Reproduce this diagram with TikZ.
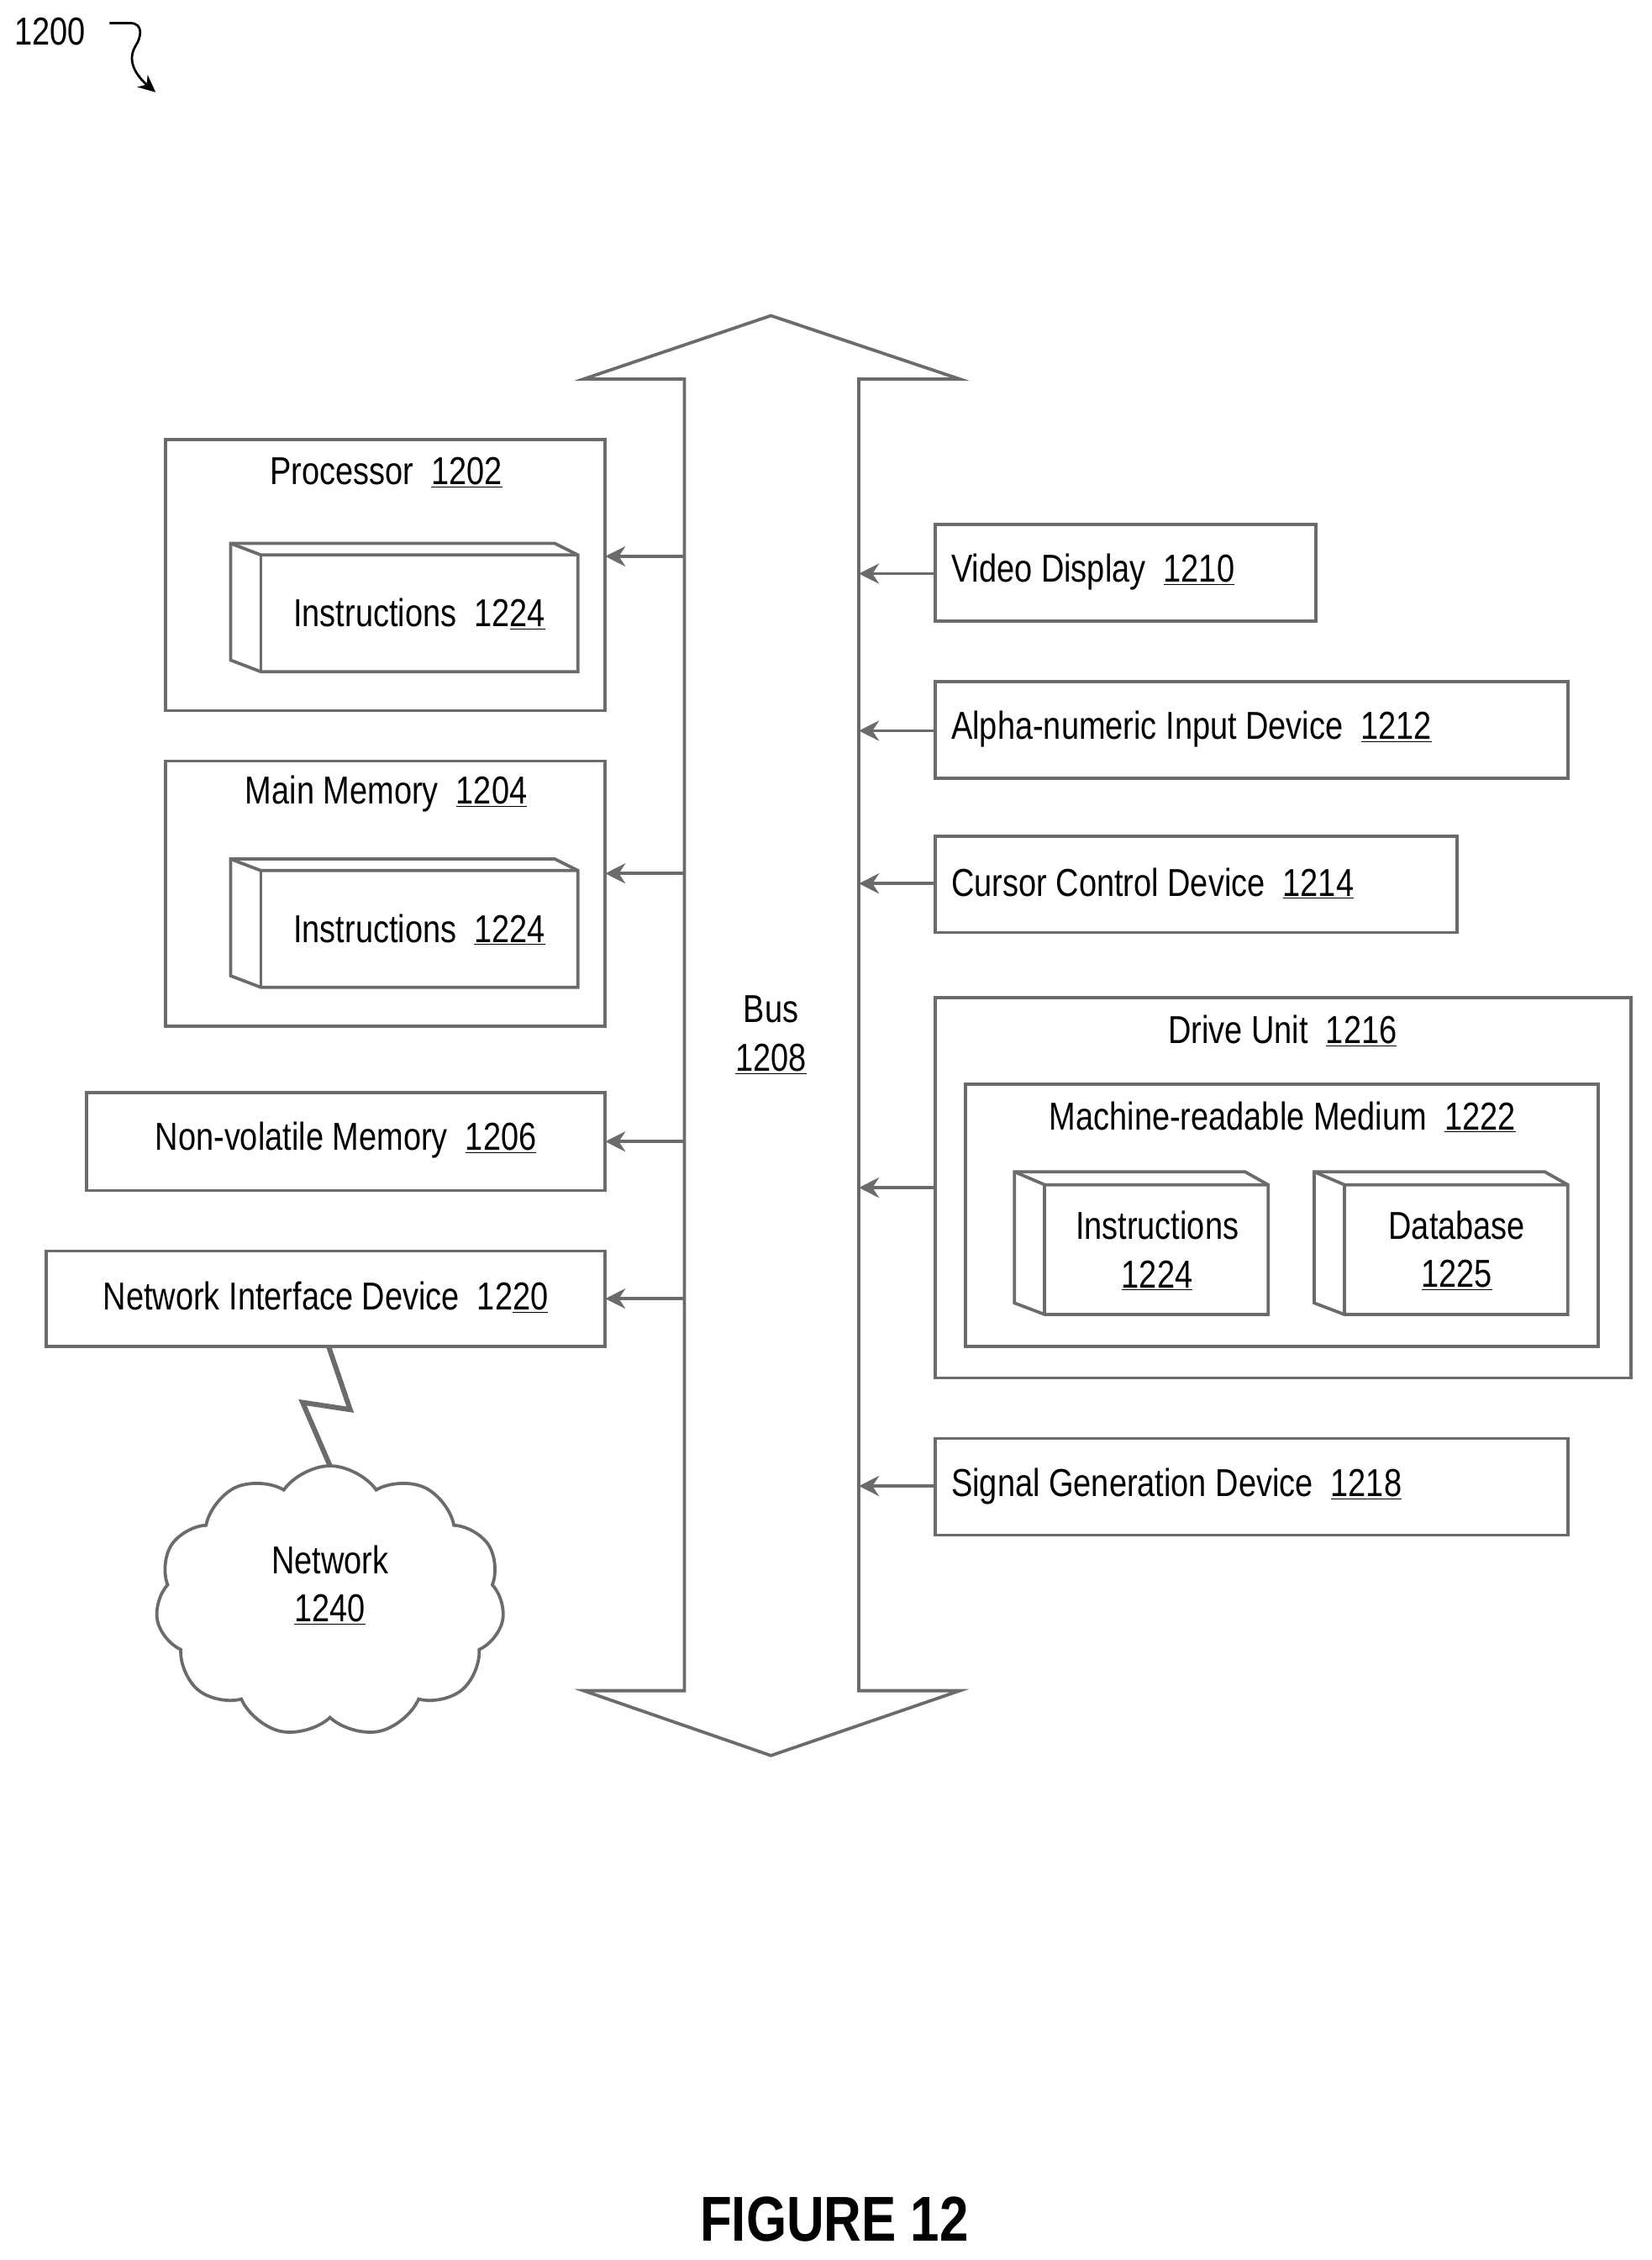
\documentclass[tikz,border=0pt]{standalone}
\usepackage{fontspec}
\setmainfont{Liberation Sans}[FakeStretch=0.82]
\usetikzlibrary{shapes.symbols,arrows.meta}
\definecolor{ln}{gray}{0.42}
\newcommand{\ul}[1]{\underline{#1}}
\begin{document}
\begin{tikzpicture}[x=1pt,y=-1pt,
  box/.style={draw=ln,line width=2.2pt},
  lbl/.style={font=\fontsize{27}{32}\selectfont,inner sep=0pt},
  ar/.style={draw=ln,line width=2.2pt,-{Stealth[length=14pt,width=14pt]}}]
\useasboundingbox (0,0) rectangle (1146,1568);
% title
\node[lbl,anchor=west] (t1200) at (10,22) {1200};
\draw[line width=1.6pt,-{Stealth[length=12pt,width=11pt]}] (76,16) -- (90,16) .. controls (100,16) and (98,26) .. (94,32) .. controls (88,42) and (94,52) .. (108,64);
% bus
\draw[box,fill=white] (475,263)--(405,263)--(535,219)--(666,263)--(596,263)--(596,1173)--(666,1173)--(535,1218)--(405,1173)--(475,1173)--cycle;
\coordinate (busL) at (475,700); \coordinate (busR) at (596,700);
\node[lbl] (bus) at (535,700) {Bus};
\node[lbl] (bus2) at (535,735) {\ul{1208}};
% left
\draw[box] (115,305) rectangle (420,493);
\node[lbl] (proc) at (268,328) {Processor\ \ \ul{1202}};
\draw[box] (160,377)--(385,377)--(401,385)--(401,466)--(181,466)--(160,458)--cycle;
\draw[box] (160,377)--(181,385)--(401,385); \draw[box] (181,385)--(181,466);
\node[lbl] (ins1) at (291,426) {Instructions\ \ 12\ul{24}};
\coordinate (a1) at (475,386); \coordinate (b1) at (420,386); \draw[ar] (a1)--(b1);

\draw[box] (115,528) rectangle (420,712);
\node[lbl] (mm) at (268,551) {Main Memory\ \ \ul{1204}};
\draw[box] (160,596)--(385,596)--(401,604)--(401,685)--(181,685)--(160,677)--cycle;
\draw[box] (160,596)--(181,604)--(401,604); \draw[box] (181,604)--(181,685);
\node[lbl] (ins2) at (291,645) {Instructions\ \ \ul{1224}};
\coordinate (a2) at (475,606); \coordinate (b2) at (420,606); \draw[ar] (a2)--(b2);

\draw[box] (60,758) rectangle (420,826);
\node[lbl] (nvm) at (240,791) {Non-volatile Memory\ \ \ul{1206}};
\coordinate (a3) at (475,792); \coordinate (b3) at (420,792); \draw[ar] (a3)--(b3);

\draw[box] (32,868) rectangle (420,934);
\node[lbl] (nid) at (226,900) {Network Interface Device\ \ 12\ul{20}};
\coordinate (a4) at (475,901); \coordinate (b4) at (420,901); \draw[ar] (a4)--(b4);

\draw[draw=ln,line width=3.5pt,line join=miter] (228,934)--(243,978)--(210,973)--(229,1017);
\node[cloud,cloud puffs=11,cloud puff arc=110,aspect=1.3,draw=ln,line width=2.2pt,minimum width=242pt,minimum height=188pt] (net) at (229,1111) {};
\node[lbl] (netl) at (229,1082) {Network};
\node[lbl] (netn) at (229,1117) {\ul{1240}};

% right
\draw[box] (649,364) rectangle (913,431);
\node[lbl,anchor=west] (vd) at (660,397) {Video Display\ \ \ul{1210}};
\coordinate (a5) at (649,398); \coordinate (b5) at (596,398); \draw[ar] (a5)--(b5);

\draw[box] (649,473) rectangle (1088,540);
\node[lbl,anchor=west] (ai) at (660,506) {Alpha-numeric Input Device\ \ \ul{1212}};
\coordinate (a6) at (649,507); \coordinate (b6) at (596,507); \draw[ar] (a6)--(b6);

\draw[box] (649,580) rectangle (1011,647);
\node[lbl,anchor=west] (cc) at (660,613) {Cursor Control Device\ \ \ul{1214}};
\coordinate (a7) at (649,613); \coordinate (b7) at (596,613); \draw[ar] (a7)--(b7);

\draw[box] (649,692) rectangle (1132,956);
\node[lbl] (du) at (890,715) {Drive Unit\ \ \ul{1216}};
\draw[box] (670,752) rectangle (1109,934);
\node[lbl] (mrm) at (890,775) {Machine-readable Medium\ \ \ul{1222}};
\coordinate (a8) at (649,824); \coordinate (b8) at (596,824); \draw[ar] (a8)--(b8);

\draw[box] (704,813)--(864,813)--(880,822)--(880,912)--(725,912)--(704,904)--cycle;
\draw[box] (704,813)--(725,822)--(880,822); \draw[box] (725,822)--(725,912);
\node[lbl] (ins3) at (803,850) {Instructions};
\node[lbl] (ins3n) at (803,885) {\ul{1224}};
\draw[box] (912,813)--(1072,813)--(1088,822)--(1088,912)--(933,912)--(912,904)--cycle;
\draw[box] (912,813)--(933,822)--(1088,822); \draw[box] (933,822)--(933,912);
\node[lbl] (db) at (1011,850) {Database};
\node[lbl] (dbn) at (1011,885) {\ul{1225}};

\draw[box] (649,998) rectangle (1088,1065);
\node[lbl,anchor=west] (sg) at (660,1031) {Signal Generation Device\ \ \ul{1218}};
\coordinate (a9) at (649,1031); \coordinate (b9) at (596,1031); \draw[ar] (a9)--(b9);

\node[font=\fontsize{44}{50}\selectfont\bfseries,inner sep=0pt] (fig) at (579,1540) {FIGURE 12};
\end{tikzpicture}
\end{document}
